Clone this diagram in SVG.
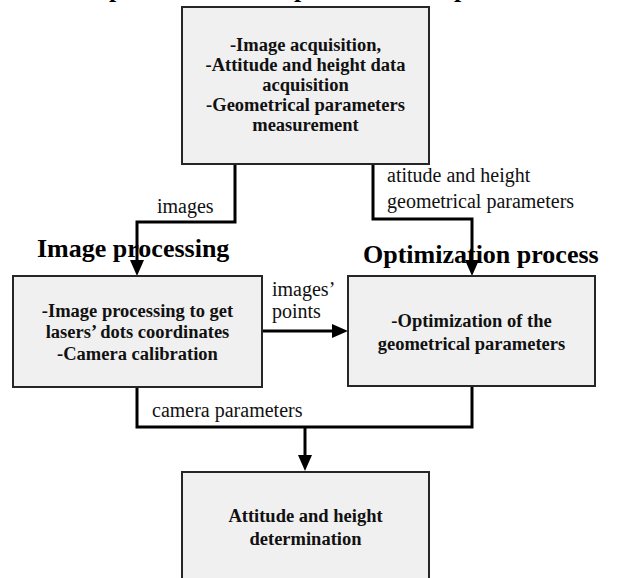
<svg xmlns="http://www.w3.org/2000/svg" width="619" height="578" viewBox="0 0 619 578">
<style>
.box{fill:#f0f0f0;stroke:#262626;stroke-width:2}
.bt{font-family:"Liberation Serif","Times New Roman",serif;font-weight:bold;font-size:18.5px;text-anchor:middle;fill:#111}
.lb{font-family:"Liberation Serif","Times New Roman",serif;font-size:20px;fill:#111}
.hd{font-family:"Liberation Serif","Times New Roman",serif;font-weight:bold;font-size:26px;fill:#000}
.cn{fill:none;stroke:#000;stroke-width:3;stroke-linejoin:miter}
</style>
<defs>
<marker id="ah" markerUnits="userSpaceOnUse" markerWidth="16" markerHeight="14" refX="0" refY="7" orient="auto" overflow="visible">
<path d="M0,0 L16,7 L0,14 Z" fill="#000"/>
</marker>
</defs>
<rect width="619" height="578" fill="#fff"/>
<g id="title-fragments">
<text class="hd" x="109" y="-3.5">p</text>
<text class="hd" x="294" y="-3.5">p</text>
<text class="hd" x="454" y="-3.5">p</text>
</g>
<g id="connectors">
<path class="cn" d="M235,164 V222 H137 V260" marker-end="url(#ah)"/>
<path class="cn" d="M373,164 V219 H472 V260" marker-end="url(#ah)"/>
<path class="cn" d="M262,331 H332" marker-end="url(#ah)"/>
<path class="cn" d="M137,387 V427 H472 V387"/>
<path class="cn" d="M305,427 V455" marker-end="url(#ah)"/>
<text class="lb" x="157" y="213">images</text>
<text class="lb" x="387" y="182">atitude and height</text>
<text class="lb" x="387" y="208">geometrical parameters</text>
<text class="lb" x="272" y="296">images’</text>
<text class="lb" x="272" y="318">points</text>
<text class="lb" x="152" y="417">camera parameters</text>
</g>
<g id="acquisition">
<rect class="box" x="182" y="7" width="247" height="157"/>
<text class="bt" x="305.5" y="51">-Image acquisition,</text>
<text class="bt" x="305.5" y="71">-Attitude and height data</text>
<text class="bt" x="305.5" y="91">acquisition</text>
<text class="bt" x="305.5" y="111">-Geometrical parameters</text>
<text class="bt" x="305.5" y="131">measurement</text>
</g>
<g id="image-processing">
<text class="hd" x="37" y="257">Image processing</text>
<rect class="box" x="13" y="276" width="249" height="111"/>
<text class="bt" x="137.5" y="317">-Image processing to get</text>
<text class="bt" x="137.5" y="338">lasers’ dots coordinates</text>
<text class="bt" x="137.5" y="360">-Camera calibration</text>
</g>
<g id="optimization">
<text class="hd" x="363" y="263">Optimization process</text>
<rect class="box" x="348" y="276" width="247" height="110"/>
<text class="bt" x="471.5" y="327">-Optimization of the</text>
<text class="bt" x="471.5" y="350">geometrical parameters</text>
</g>
<g id="determination">
<rect class="box" x="182" y="472" width="247" height="120"/>
<text class="bt" x="305.5" y="522">Attitude and height</text>
<text class="bt" x="305.5" y="545">determination</text>
</g>
</svg>
